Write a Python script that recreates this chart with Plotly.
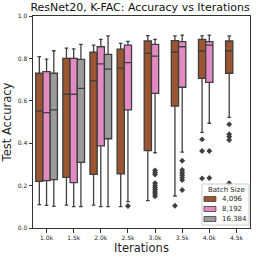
import plotly.graph_objects as go

categories = ["1.0k", "1.5k", "2.0k", "2.5k", "3.0k", "3.5k", "4.0k", "4.5k"]
batch_sizes = ["4,096", "8,192", "16,384"]

# 4,096
b4096_low = [0.110, 0.108, 0.108, 0.101, 0.129, 0.151, 0.451, 0.522]
b4096_q1 = [0.220, 0.239, 0.253, 0.255, 0.365, 0.575, 0.706, 0.730]
b4096_med = [0.552, 0.631, 0.695, 0.753, 0.824, 0.829, 0.835, 0.836]
b4096_q3 = [0.730, 0.800, 0.829, 0.844, 0.882, 0.884, 0.890, 0.882]
b4096_high = [0.808, 0.848, 0.863, 0.871, 0.907, 0.906, 0.906, 0.906]
b4096_out = [[], [], [], [], [], [0.105], [0.418, 0.363, 0.234],
             [0.489, 0.442, 0.430, 0.415, 0.211]]

# 8,192
b8192_low = [0.107, 0.101, 0.101, 0.124, 0.355, 0.358, 0.494]
b8192_q1 = [0.223, 0.214, 0.387, 0.557, 0.635, 0.664, 0.687]
b8192_med = [0.544, 0.631, 0.774, 0.780, 0.811, 0.855, 0.863]
b8192_q3 = [0.738, 0.800, 0.855, 0.863, 0.866, 0.879, 0.879]
b8192_high = [0.797, 0.845, 0.890, 0.880, 0.890, 0.910, 0.910]
b8192_out = [[], [], [], [0.104],
             [0.272, 0.262, 0.252, 0.212, 0.200, 0.190, 0.180, 0.170, 0.160, 0.150],
             [0.317, 0.274, 0.262, 0.250, 0.238, 0.226, 0.179],
             [0.363, 0.236]]

# 16,384
b16384_low = [0.102, 0.101, 0.101]
b16384_q1 = [0.228, 0.310, 0.421]
b16384_med = [0.557, 0.659, 0.749]
b16384_q3 = [0.730, 0.795, 0.819]
b16384_high = [0.836, 0.866, 0.906]
b16384_out = [[], [], []]

colors = ["#9c5531", "#e48ac2", "#9b9b9b"]
edge = "#3f3f3f"

series = [
    (b4096_low, b4096_q1, b4096_med, b4096_q3, b4096_high, b4096_out),
    (b8192_low, b8192_q1, b8192_med, b8192_q3, b8192_high, b8192_out),
    (b16384_low, b16384_q1, b16384_med, b16384_q3, b16384_high, b16384_out),
]

n_hue = len(batch_sizes)
box_w = 0.8 / n_hue

fig = go.Figure()
for h, (lo, q1, med, q3, hi, out) in enumerate(series):
    off = (h - (n_hue - 1) / 2) * box_w
    xs = [i + off for i in range(len(med))]
    fig.add_trace(go.Box(
        name=batch_sizes[h], x=xs, lowerfence=lo, q1=q1, median=med, q3=q3,
        upperfence=hi, width=box_w, fillcolor=colors[h],
        line=dict(color=edge, width=1.3), whiskerwidth=0.5,
        boxpoints=False, showlegend=False,
    ))
    ox, oy = [], []
    for i, vals in enumerate(out):
        for v in vals:
            ox.append(i + off)
            oy.append(v)
    fig.add_trace(go.Scatter(
        x=ox, y=oy, mode="markers", showlegend=False,
        marker=dict(symbol="diamond", size=4.5, color=edge),
        hoverinfo="skip",
    ))

# compact legend (matplotlib-style), drawn in paper coordinates
leg_x0, leg_x1, leg_y0, leg_y1 = 0.779, 0.995, 0.014, 0.2075
patch_x0, patch_x1, patch_h = 0.788, 0.843, 0.0118
row_y = [0.137, 0.0896, 0.0425]
shapes = [dict(type="rect", xref="paper", yref="paper", x0=leg_x0, x1=leg_x1,
               y0=leg_y0, y1=leg_y1, fillcolor="rgba(255,255,255,0.8)",
               line=dict(color="#cccccc", width=1), layer="above")]
annotations = [dict(text="Batch Size", xref="paper", yref="paper", x=0.894, y=0.179,
                    xanchor="center", yanchor="middle", showarrow=False,
                    font=dict(size=7, color="#262626"))]
for k, lab in enumerate(batch_sizes):
    shapes.append(dict(type="rect", xref="paper", yref="paper", x0=patch_x0, x1=patch_x1,
                       y0=row_y[k] - patch_h, y1=row_y[k] + patch_h,
                       fillcolor=colors[k], line=dict(color=edge, width=0.8), layer="above"))
    annotations.append(dict(text=lab, xref="paper", yref="paper", x=0.862, y=row_y[k],
                            xanchor="left", yanchor="middle", showarrow=False,
                            font=dict(size=7, color="#262626")))

font = "DejaVu Sans"
fig.update_layout(
    width=258, height=257,
    margin=dict(l=33, r=8, t=16, b=29),
    paper_bgcolor="white", plot_bgcolor="white",
    boxmode="overlay",
    font=dict(family=font, color="#262626"),
    title=dict(text="ResNet20, K-FAC: Accuracy vs Iterations",
               font=dict(size=11, family=font, color="#111"),
               x=0.543, xanchor="center", y=0.972, yanchor="middle"),
    showlegend=False,
    shapes=shapes,
    annotations=annotations,
    xaxis=dict(
        range=[-0.5, len(categories) - 0.5],
        tickmode="array", tickvals=list(range(len(categories))), ticktext=categories,
        tickfont=dict(size=6), ticks="outside", ticklen=3.5, tickcolor="#333",
        showline=True, mirror=True, linecolor="#333", linewidth=1,
        showgrid=False, zeroline=False, automargin=False,
        title=dict(text="Iterations", font=dict(size=11.5), standoff=0),
    ),
    yaxis=dict(
        range=[0, 1], tickmode="array", tickvals=[0, 0.2, 0.4, 0.6, 0.8, 1.0],
        ticktext=["0.0", "0.2", "0.4", "0.6", "0.8", "1.0"],
        tickfont=dict(size=6), ticks="outside", ticklen=3.5, tickcolor="#333",
        showline=True, mirror=True, linecolor="#333", linewidth=1,
        showgrid=False, zeroline=False, automargin=False,
        title=dict(text="Test Accuracy", font=dict(size=11.5), standoff=3),
    ),
)

fig.write_html("out.html", config={"displayModeBar": False},
               post_script="document.body.style.margin='0';")
